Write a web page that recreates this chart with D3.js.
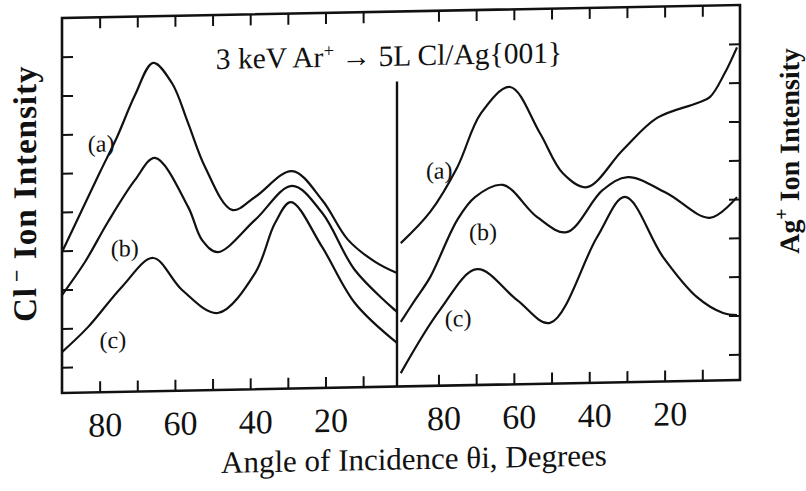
<!DOCTYPE html>
<html>
<head>
<meta charset="utf-8">
<script src="https://cdn.jsdelivr.net/npm/d3@7"></script>
<style>
body { margin: 0; background: #fff; }
svg { display: block; }
text { font-family: "Liberation Serif", "Times New Roman", serif; fill: #111; }
</style>
</head>
<body>
<svg id="chart" width="806" height="491"></svg>
<script>
// angle of incidence (deg) and ion intensity (arb. units, one tick = 1)
const clDegA = [90, 85.2, 79.9, 75.4, 70.6, 65.8, 60.8, 56.5, 52.0, 44.8, 38.7, 28.9, 20.9, 14.0, 6.8, 1];
const clValA = [3.97, 4.94, 6.01, 6.90, 7.98, 8.80, 8.27, 7.23, 6.09, 4.97, 5.29, 5.94, 5.18, 4.14, 3.56, 3.26];
const clDegB = [90, 83.9, 77.8, 70.6, 65.3, 56.5, 52.8, 48.6, 38.7, 28.9, 20.9, 12.2, 1];
const clValB = [2.86, 3.70, 4.72, 5.79, 6.35, 5.07, 4.21, 3.89, 4.70, 5.56, 4.85, 3.36, 2.26];
const clDegC = [90, 83.1, 74.1, 65.8, 58.1, 48.6, 38.7, 33.4, 29.2, 20.9, 12.2, 1];
const clValC = [1.39, 2.02, 3.04, 3.77, 2.93, 2.32, 3.33, 4.61, 5.14, 3.97, 2.51, 1.46];

const agDegA = [90, 82.2, 75.0, 68.7, 61.0, 53.1, 47.0, 40.6, 31.1, 22.0, 11.5, 8.0, 4.0, 0.8];
const agValA = [4.03, 4.82, 5.96, 7.34, 8.00, 6.80, 5.75, 5.38, 6.32, 7.13, 7.49, 7.64, 8.26, 8.91];
const agDegB = [90, 86.2, 82.2, 75.0, 70.3, 62.9, 53.9, 46.0, 36.4, 29.8, 19.5, 8.0, 0.8];
const agValB = [2.00, 2.56, 3.14, 4.60, 5.18, 5.48, 4.64, 4.23, 5.30, 5.62, 5.19, 4.53, 5.05];
const agDegC = [90, 79.6, 69.8, 59.2, 50.4, 37.9, 30.5, 20.4, 11.4, 4.5, 0.8];
const agValC = [0.68, 2.29, 3.32, 2.51, 1.90, 4.09, 5.11, 3.54, 2.49, 2.07, 2.01];

const tickDegs = [80, 70, 60, 50, 40, 30, 20, 10];
const labelDegs = [80, 60, 40, 20];
const intensityTicks = [1, 2, 3, 4, 5, 6, 7, 8, 9];

// curve labels: [text, angle, intensity]
const clLabels = [["(a)", 79.6, 6.75], ["(b)", 73.3, 4.04], ["(c)", 76.5, 1.68]];
const agLabels = [["(a)", 79.8, 5.89], ["(b)", 68.2, 4.28], ["(c)", 74.8, 2.07]];

const svg = d3.select("#chart");

// the scanned figure is slightly skewed, right side higher
const g = svg.append("g")
    .attr("transform", "translate(62,0) skewY(-1.1) translate(-62,0)");

const frameL = 62, frameM = 397, frameR = 740, frameT = 18, frameB = 393;

const xLeft = d3.scaleLinear().domain([90, 1]).range([frameL, frameM]);
const xRight = d3.scaleLinear().domain([91, 0]).range([frameM, frameR]);
const y = d3.scaleLinear().domain([0, 10]).range([406, 18]);

// frame
g.append("rect")
    .attr("x", frameL).attr("y", frameT)
    .attr("width", frameR - frameL).attr("height", frameB - frameT)
    .attr("fill", "none").attr("stroke", "#111").attr("stroke-width", 2.6);

g.append("line")
    .attr("x1", frameM).attr("x2", frameM)
    .attr("y1", 88).attr("y2", frameB)
    .attr("stroke", "#111").attr("stroke-width", 2.4);

function styleAxis(sel) {
    sel.select(".domain").remove();
    sel.selectAll(".tick line").attr("stroke", "#111").attr("stroke-width", 2);
    sel.selectAll(".tick text")
        .attr("fill", "#111")
        .style("font-family", "'Liberation Serif', serif")
        .style("font-size", "34px");
    sel.selectAll(".tick text").filter(function() { return this.textContent === ""; }).remove();
}

[xLeft, xRight].forEach(xs => {
    g.append("g")
        .attr("transform", `translate(0,${frameB})`)
        .call(d3.axisBottom(xs).tickValues(tickDegs).tickSize(-11).tickPadding(20)
            .tickFormat(d => labelDegs.includes(d) ? d : ""))
        .call(styleAxis)
        .selectAll(".tick text").attr("dx", 5);

    g.append("g")
        .attr("transform", `translate(0,${frameT})`)
        .call(d3.axisTop(xs).tickValues(tickDegs).tickSize(-11).tickFormat(""))
        .call(styleAxis);
});

g.append("g")
    .attr("transform", `translate(${frameL},0)`)
    .call(d3.axisLeft(y).tickValues(intensityTicks).tickSize(-11).tickFormat(""))
    .call(styleAxis);

g.append("g")
    .attr("transform", `translate(${frameR},0)`)
    .call(d3.axisRight(y).tickValues(intensityTicks).tickSize(-11).tickFormat(""))
    .call(styleAxis);

// curves
function drawCurve(xs, degs, vals) {
    const pts = degs.map((d, i) => [d, vals[i]]);
    const line = d3.line()
        .x(d => xs(d[0]))
        .y(d => y(d[1]))
        .curve(d3.curveCatmullRom.alpha(0.5));
    g.append("path")
        .attr("d", line(pts))
        .attr("fill", "none")
        .attr("stroke", "#111")
        .attr("stroke-width", 2.2);
}

drawCurve(xLeft, clDegA, clValA);
drawCurve(xLeft, clDegB, clValB);
drawCurve(xLeft, clDegC, clValC);
drawCurve(xRight, agDegA, agValA);
drawCurve(xRight, agDegB, agValB);
drawCurve(xRight, agDegC, agValC);

function drawLabels(xs, labels) {
    g.selectAll(null)
        .data(labels)
        .join("text")
        .attr("x", d => xs(d[1]))
        .attr("y", d => y(d[2]))
        .attr("dy", "0.35em")
        .attr("text-anchor", "middle")
        .style("font-size", "24px")
        .text(d => d[0]);
}
drawLabels(xLeft, clLabels);
drawLabels(xRight, agLabels);

// title
const title = g.append("text")
    .attr("x", 389).attr("y", 72)
    .attr("text-anchor", "middle")
    .style("font-size", "29.5px");
title.append("tspan").text("3 keV Ar");
title.append("tspan").attr("dy", -10).style("font-size", "19px").text("+");
title.append("tspan").attr("dy", 10).text(" \u2192 5L Cl/Ag{001}");

// x label
g.append("text")
    .attr("x", 414).attr("y", 476)
    .attr("text-anchor", "middle")
    .style("font-size", "31px")
    .text("Angle of Incidence \u03b8i, Degrees");

// y labels
const yl = g.append("text")
    .attr("transform", "translate(36,193) rotate(-90)")
    .attr("text-anchor", "middle")
    .style("font-size", "33px")
    .style("letter-spacing", "1px")
    .style("font-weight", "bold");
yl.append("tspan").text("Cl");
yl.append("tspan").attr("dy", -12).attr("dx", 5).style("font-size", "22px").text("\u2212");
yl.append("tspan").attr("dy", 12).text(" Ion Intensity");

const yr = g.append("text")
    .attr("transform", "translate(799,165) rotate(-90)")
    .attr("text-anchor", "middle")
    .style("font-size", "28px")
    .style("font-weight", "bold");
yr.append("tspan").text("Ag");
yr.append("tspan").attr("dy", -11).style("font-size", "20px").text("+");
yr.append("tspan").attr("dy", 11).text(" Ion Intensity");
</script>
</body>
</html>
